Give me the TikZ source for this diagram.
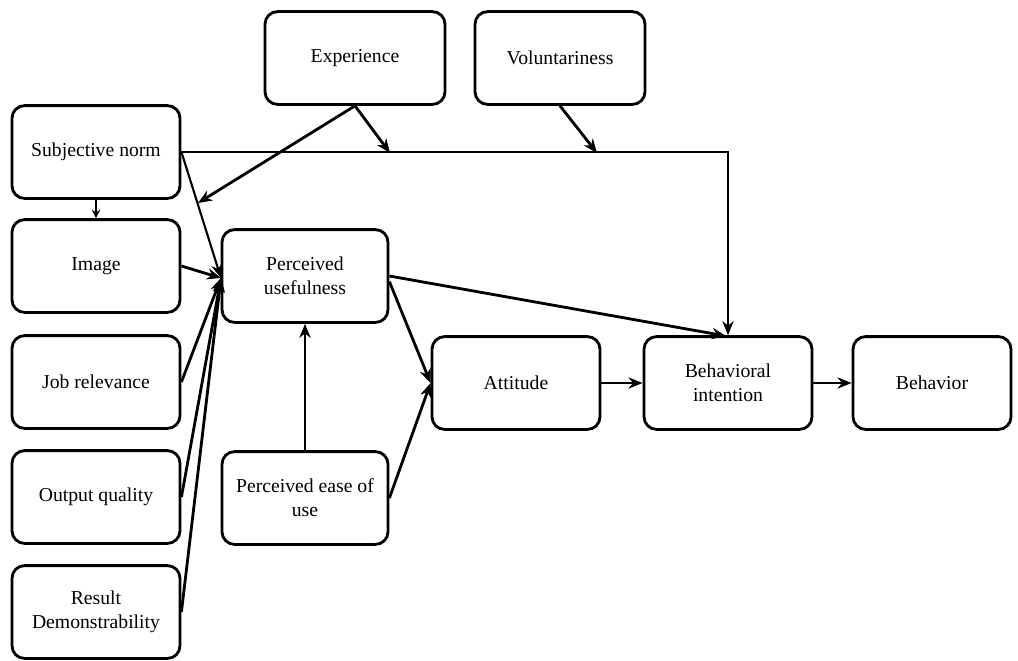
\documentclass[tikz,border=0pt]{standalone}
\usepackage{fontspec}
\setmainfont{Liberation Serif}
\usetikzlibrary{arrows.meta}

\begin{document}
\begin{tikzpicture}[x=0.025cm, y=-0.025cm,
  box/.style={draw, line width=2pt, rounded corners=9pt, minimum width=4.2cm,
    minimum height=2.32cm, align=center, font=\fontsize{14}{17}\selectfont},
  arr/.style={-{Stealth[length=10pt,width=8pt]}, line width=2pt},
  thinarr/.style={-{Stealth[length=10pt,width=8pt]}, line width=1.5pt}]
\useasboundingbox (0,0) rectangle (1018,660);
\node [box, minimum width=4.5cm] (exp) at (355,58) {Experience};
\node [box, minimum width=4.25cm] (vol) at (560,58) {Voluntariness};
\node [box] (sn) at (96,152) {Subjective norm};
\node [box] (img) at (96,266) {Image};
\node [box] (job) at (96,382) {Job relevance};
\node [box] (out) at (96,497) {Output quality};
\node [box] (res) at (96,612) {Result\\Demonstrability};
\node [box, minimum width=4.15cm] (pu) at (305,276) {Perceived\\usefulness};
\node [box, minimum width=4.15cm] (peou) at (305,498) {Perceived ease of\\use};
\node [box] (att) at (516,383) {Attitude};
\node [box] (bi) at (728,383) {Behavioral\\intention};
\node [box, minimum width=3.95cm] (beh) at (932,383) {Behavior};
\coordinate (puin) at (221,278);
\coordinate (biin) at (726,336);
\coordinate (expa) at (390,153);
\coordinate (expb) at (198,203);
\coordinate (vola) at (597,153);
\draw [arr] (sn.east) -| (bi.north);
\draw [arr] (exp.south) -- (expa);
\draw [arr] (exp.south) -- (expb);
\draw [arr] (vol.south) -- (vola);
\draw [arr, -{Stealth[length=6pt,width=6pt]}] (sn.south) -- (img.north);
\draw [thinarr] (sn.east) -- (puin);
\foreach \n in {img,job,out,res}
\draw [arr] (\n.east) -- (puin);
\draw [arr] (pu.east) -- (biin);
\draw [arr] ([yshift=-4pt]pu.east) -- (att.west);
\draw [arr] (peou.east) -- (att.west);
\draw [arr] (peou.north) -- (pu.south);
\draw [arr] (att.east) -- (bi.west);
\draw [arr] (bi.east) -- (beh.west);
\end{tikzpicture}
\end{document}
